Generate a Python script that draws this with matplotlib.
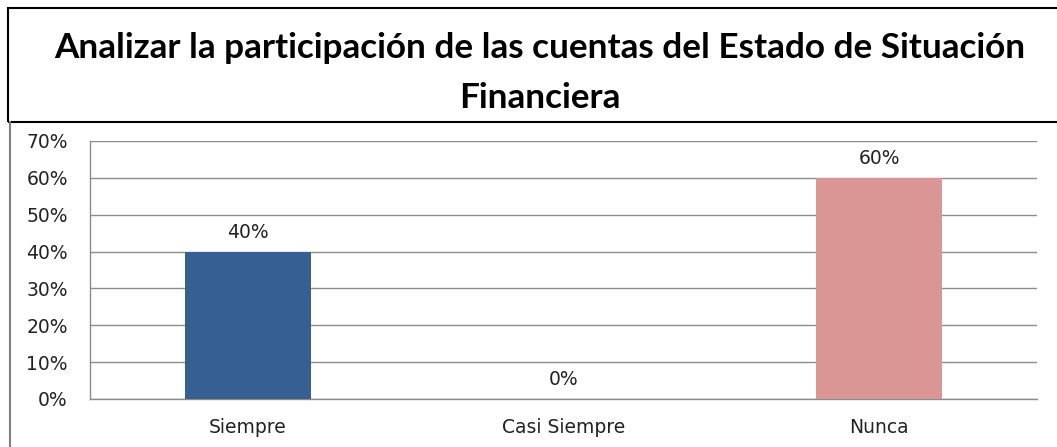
import matplotlib
matplotlib.use("Agg")
import matplotlib.pyplot as plt
from matplotlib.patches import Rectangle
from matplotlib.lines import Line2D
from matplotlib.ticker import FuncFormatter, MultipleLocator

categories = ["Siempre", "Casi Siempre", "Nunca"]
values = [0.40, 0.00, 0.60]
bar_colors = ["#376092", "#4F81BD", "#D99694"]
title = "Analizar la participación de las cuentas del Estado de Situación\nFinanciera"

W, H = 1057, 447
fig = plt.figure(figsize=(W / 100, H / 100), dpi=100)

# frame decorations
fig.add_artist(Rectangle((8 / W, 1 - 122 / H), (W + 5 - 8) / W, (122 - 8) / H,
                         transform=fig.transFigure, fill=False, edgecolor="black", lw=1.5))
fig.add_artist(Line2D([10 / W, 10 / W], [0, 1 - 122 / H], transform=fig.transFigure,
                      color="#808080", lw=1.5))

fig.text(540 / W, 1 - 73 / H, title, ha="center", va="center", fontsize=25.3,
         fontweight="bold", family="Lato", linespacing=1.7)

ax = fig.add_axes([90 / W, 1 - 399 / H, (1037 - 90) / W, (399 - 141) / H])
x = range(len(categories))
bars = ax.bar(x, values, width=0.4, color=bar_colors, zorder=3)
ax.set_xlim(-0.5, 2.5)
ax.set_ylim(0, 0.70)
ax.yaxis.set_major_locator(MultipleLocator(0.10))
ax.yaxis.set_major_formatter(FuncFormatter(lambda v, p: f"{v*100:.0f}%"))
ax.grid(axis="y", color="#8c8c8c", lw=1, zorder=0)
ax.set_axisbelow(True)
for s in ["top", "right"]:
    ax.spines[s].set_visible(False)
for s in ["left", "bottom"]:
    ax.spines[s].set_color("#8c8c8c")
    ax.spines[s].set_linewidth(1)
ax.set_xticks(list(x))
ax.set_xticklabels(categories)
ax.tick_params(axis="y", length=0, pad=16, labelsize=13.5, colors="#222222")
ax.tick_params(axis="x", length=0, pad=14, labelsize=13.5, colors="#222222")
for xi, v in zip(x, values):
    ax.annotate(f"{v*100:.0f}%", (xi, v), xytext=(0, 14), textcoords="offset points",
                ha="center", va="center", fontsize=13.5, color="#222222")

fig.savefig("out.png", dpi=100)
